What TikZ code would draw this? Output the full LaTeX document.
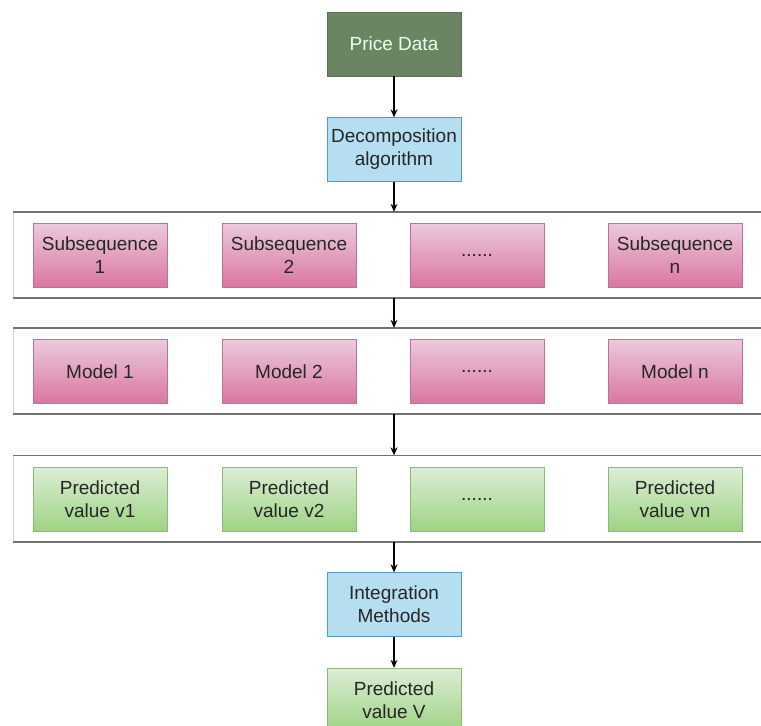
\documentclass[tikz,border=0pt]{standalone}
\usepackage{fontspec}
\setmainfont{Liberation Sans}
\usetikzlibrary{arrows.meta,positioning}
\definecolor{pinktop}{RGB}{235,202,220}
\definecolor{pinkbot}{RGB}{218,118,160}
\definecolor{pinkline}{RGB}{192,112,152}
\definecolor{greentop}{RGB}{220,237,214}
\definecolor{greenbot}{RGB}{158,211,132}
\definecolor{greenline}{RGB}{140,186,116}
\definecolor{bluefill}{RGB}{181,222,240}
\definecolor{blueline}{RGB}{82,152,196}
\definecolor{pricefill}{RGB}{107,133,99}
\definecolor{priceline}{RGB}{86,112,80}
\tikzset{
  box/.style={rectangle, minimum width=134pt, minimum height=64pt, inner sep=0pt,
    align=center, font=\fontsize{19}{23}\selectfont, text=black!85},
  pinkbox/.style={box, draw=pinkline, top color=pinktop, bottom color=pinkbot},
  greenbox/.style={box, draw=greenline, top color=greentop, bottom color=greenbot},
  bluebox/.style={box, draw=blueline, fill=bluefill},
  pricebox/.style={box, draw=priceline, fill=pricefill, text=white!92!green},
  band/.style={rectangle, draw=black!18, fill=white, minimum width=762pt,
    minimum height=86pt, inner sep=0pt},
  bandline/.style={black!55, line width=1.6pt},
  arr/.style={-{Stealth[length=8pt,width=7pt]}, line width=1.1pt}
}
\begin{document}
\begin{tikzpicture}[x=1pt,y=-1pt]
  \useasboundingbox (0,0) rectangle (761,726);

  % top
  \node[pricebox] (price) at (394,44) {Price Data};
  \node[bluebox] (dec) at (394,149.5) {Decomposition\\algorithm};

  % bands
  \node[band] (b1) at (394,255) {};
  \node[band] (b2) at (394,371) {};
  \node[band] (b3) at (394,498.5) {};
  \foreach \b in {b1,b2,b3} {
    \draw[bandline] (\b.north west) -- (\b.north east);
    \draw[bandline] (\b.south west) -- (\b.south east);
  }

  \foreach \x/\t [count=\i] in {100/{Subsequence\\1}, 289/{Subsequence\\2}, 477/{......}, 675/{Subsequence\\n}}
    \node[pinkbox] (s\i) at (\x,255) {\t};
  \foreach \x/\t [count=\i] in {100/{Model 1}, 289/{Model 2}, 477/{......}, 675/{Model n}}
    \node[pinkbox] (m\i) at (\x,371.5) {\t};
  \foreach \x/\t [count=\i] in {100/{Predicted\\value v1}, 289/{Predicted\\value v2}, 477/{......}, 675/{Predicted\\value vn}}
    \node[greenbox] (p\i) at (\x,499) {\t};

  % bottom
  \node[bluebox] (integ) at (394,604.5) {Integration\\Methods};
  \node[greenbox] (vout) at (394,700) {Predicted\\value V};

  \draw[arr] (price) -- (dec);
  \draw[arr] (dec) -- (b1);
  \draw[arr] (b1) -- (b2);
  \draw[arr] (b2) -- (b3);
  \draw[arr] (b3) -- (integ);
  \draw[arr] (integ) -- (vout);
\end{tikzpicture}
\end{document}
